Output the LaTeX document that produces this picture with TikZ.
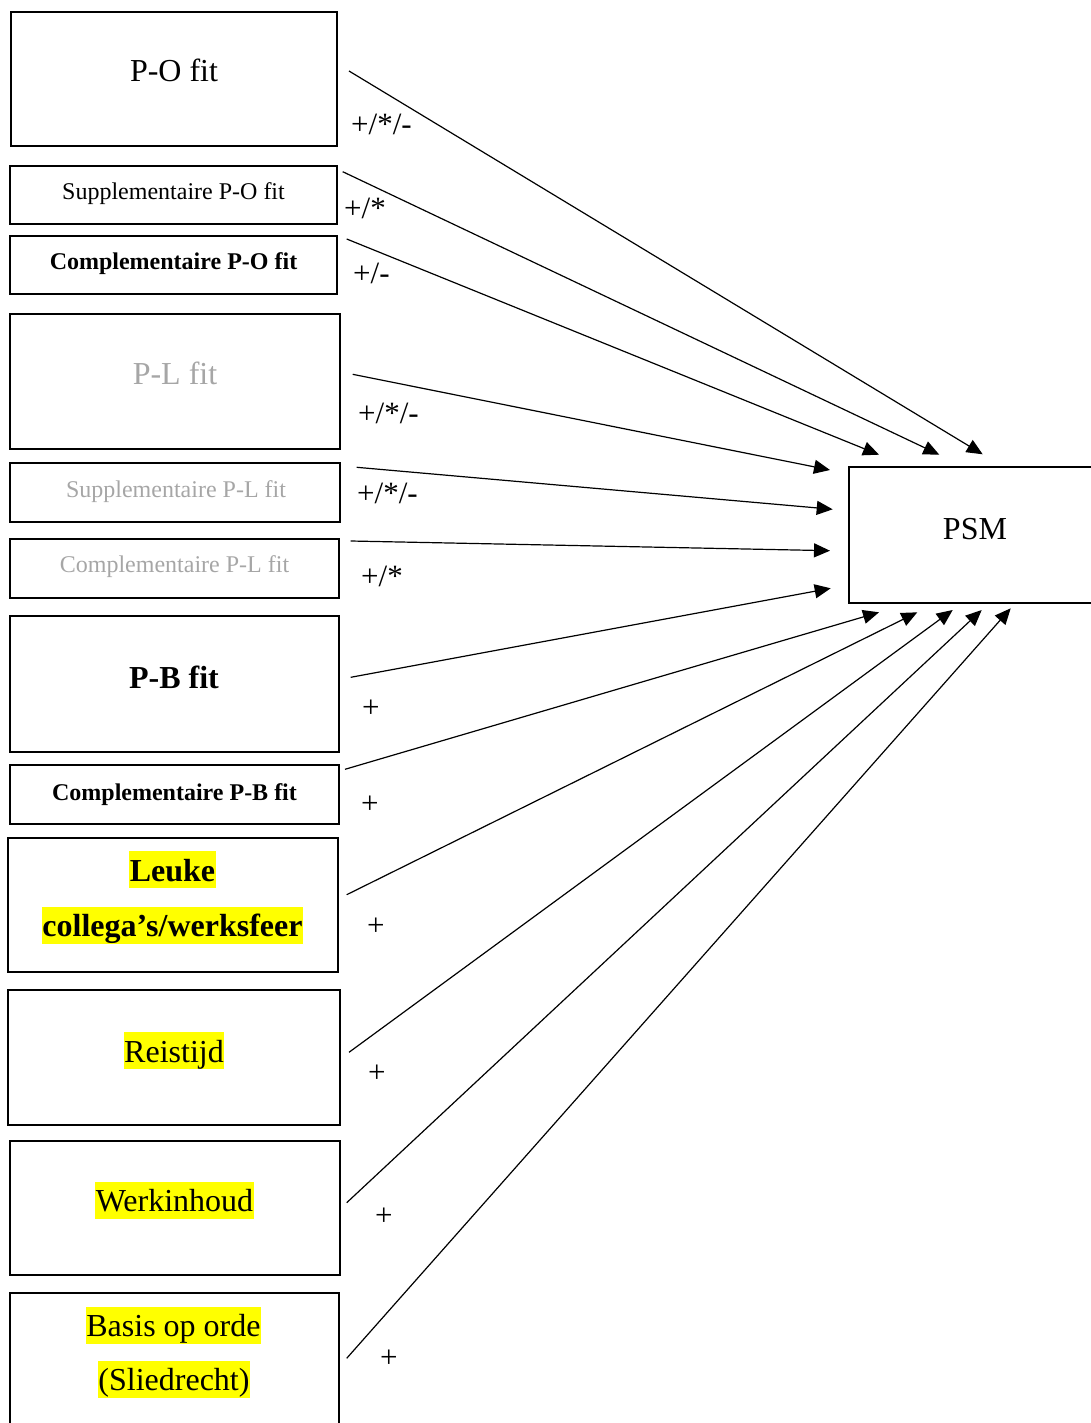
\documentclass[tikz,border=0pt]{standalone}
\usepackage{fontspec}
\setmainfont{Liberation Serif}
\usetikzlibrary{arrows.meta}
\definecolor{plgray}{RGB}{166,166,166}
\definecolor{hl}{RGB}{255,255,0}
\begin{document}
\begin{tikzpicture}[x=1pt,y=-1pt,
  box/.style={draw,line width=2.7pt,outer sep=0pt,inner sep=0pt},
  txt/.style={anchor=base,inner sep=0pt},
  big/.style={font=\fontsize{32}{38}\selectfont},
  bigb/.style={font=\fontsize{32}{38}\selectfont\bfseries},
  small/.style={font=\fontsize{24}{29}\selectfont},
  smallb/.style={font=\fontsize{24}{29}\selectfont\bfseries},
  hlt/.style={fill=hl,inner xsep=0.5pt,inner ysep=0pt,text height=30pt,text depth=7pt},
  arr/.style={line width=1.2pt,-{Triangle[length=16pt,width=14pt]}},
  sign/.style={anchor=base west,inner sep=0pt,font=\fontsize{31}{36}\selectfont}]
\useasboundingbox (0,0) rectangle (1091,1423);

% boxes
\node[box,minimum width=326pt,minimum height=134pt] (b1) at (174,79) {};
\node[box,minimum width=327pt,minimum height=58pt] (b2) at (173.5,195) {};
\node[box,minimum width=327pt,minimum height=58pt] (b3) at (173.5,265) {};
\node[box,minimum width=330pt,minimum height=135pt] (b4) at (175,381.5) {};
\node[box,minimum width=330pt,minimum height=59pt] (b5) at (175,492.5) {};
\node[box,minimum width=329pt,minimum height=59pt] (b6) at (174.5,568.5) {};
\node[box,minimum width=329pt,minimum height=136pt] (b7) at (174.5,684) {};
\node[box,minimum width=329pt,minimum height=59pt] (b8) at (174.5,794.5) {};
\node[box,minimum width=330pt,minimum height=134pt] (b9) at (173,905) {};
\node[box,minimum width=332pt,minimum height=135pt] (b10) at (174,1057.5) {};
\node[box,minimum width=330pt,minimum height=134pt] (b11) at (175,1208) {};
\node[box,minimum width=329pt,minimum height=140pt] (b12) at (174.5,1363) {};
\node[box,minimum width=247pt,minimum height=136pt] (psm) at (972.5,535) {};

% texts
\node[txt,big] (t1) at (174,82) {P-O fit};
\node[txt,small] (t2) at (173.5,200) {Supplementaire P-O fit};
\node[txt,smallb] (t3) at (173.5,269.5) {Complementaire P-O fit};
\node[txt,big,text=plgray] (t4) at (175,384.5) {P-L fit};
\node[txt,small,text=plgray] (t5) at (176,497) {Supplementaire P-L fit};
\node[txt,small,text=plgray] (t6) at (174.5,572.5) {Complementaire P-L fit};
\node[txt,bigb] (t7) at (174,688) {P-B fit};
\node[txt,smallb] (t8) at (174.5,800) {Complementaire P-B fit};
\node[txt,bigb,hlt] (t9a) at (172.5,881) {Leuke};
\node[txt,bigb,hlt] (t9b) at (172.5,936.5) {collega’s/werksfeer};
\node[txt,big,hlt] (t10) at (174,1062) {Reistijd};
\node[txt,big,hlt] (t11) at (174.5,1211.5) {Werkinhoud};
\node[txt,big,hlt] (t12a) at (173.5,1336.5) {Basis op orde};
\node[txt,big,hlt] (t12b) at (174,1390.5) {(Sliedrecht)};
\node[txt,big] (tp) at (975,539) {PSM};

% connectors
\draw[arr] ([shift={(12,59)}]b1.north east) -- ([shift={(133.7,-12.7)}]psm.north west);
\draw[arr] ([shift={(5.7,5.7)}]b2.north east) -- ([shift={(90.3,-12.3)}]psm.north west);
\draw[arr] ([shift={(9.7,3)}]b3.north east) -- ([shift={(30,-12.3)}]psm.north west);
\draw[arr] ([shift={(12.7,60.3)}]b4.north east) -- ([shift={(-19,3)}]psm.north west);
\draw[arr] ([shift={(16.7,4.3)}]b5.north east) -- ([shift={(-16.3,42.3)}]psm.north west);
\draw[arr] ([shift={(11.7,2)}]b6.north east) -- ([shift={(-19,83.7)}]psm.north west);
\draw[arr] ([shift={(11.7,61.3)}]b7.north east) -- ([shift={(-18.3,121.3)}]psm.north west);
\draw[arr] ([shift={(6,4.3)}]b8.north east) -- ([shift={(30,145.3)}]psm.north west);
\draw[arr] ([shift={(8.7,56.7)}]b9.north east) -- ([shift={(68.3,145.3)}]psm.north west);
\draw[arr] ([shift={(9,62.3)}]b10.north east) -- ([shift={(103.7,143)}]psm.north west);
\draw[arr] ([shift={(6.7,61.7)}]b11.north east) -- ([shift={(132.7,143)}]psm.north west);
\draw[arr] ([shift={(7.7,65.3)}]b12.north east) -- ([shift={(161.7,141.3)}]psm.north west);

% signs
\node[sign] (s1) at (351,135) {+/*/-};
\node[sign] (s2) at (344,219) {+/*};
\node[sign] (s3) at (353,283) {+/-};
\node[sign] (s4) at (358,423.5) {+/*/-};
\node[sign] (s5) at (357,503) {+/*/-};
\node[sign] (s6) at (361,586) {+/*};
\node[sign] (s7) at (362,717) {+};
\node[sign] (s8) at (361,813) {+};
\node[sign] (s9) at (367,935) {+};
\node[sign] (s10) at (368,1082) {+};
\node[sign] (s11) at (375,1225) {+};
\node[sign] (s12) at (380,1367) {+};
\end{tikzpicture}
\end{document}
